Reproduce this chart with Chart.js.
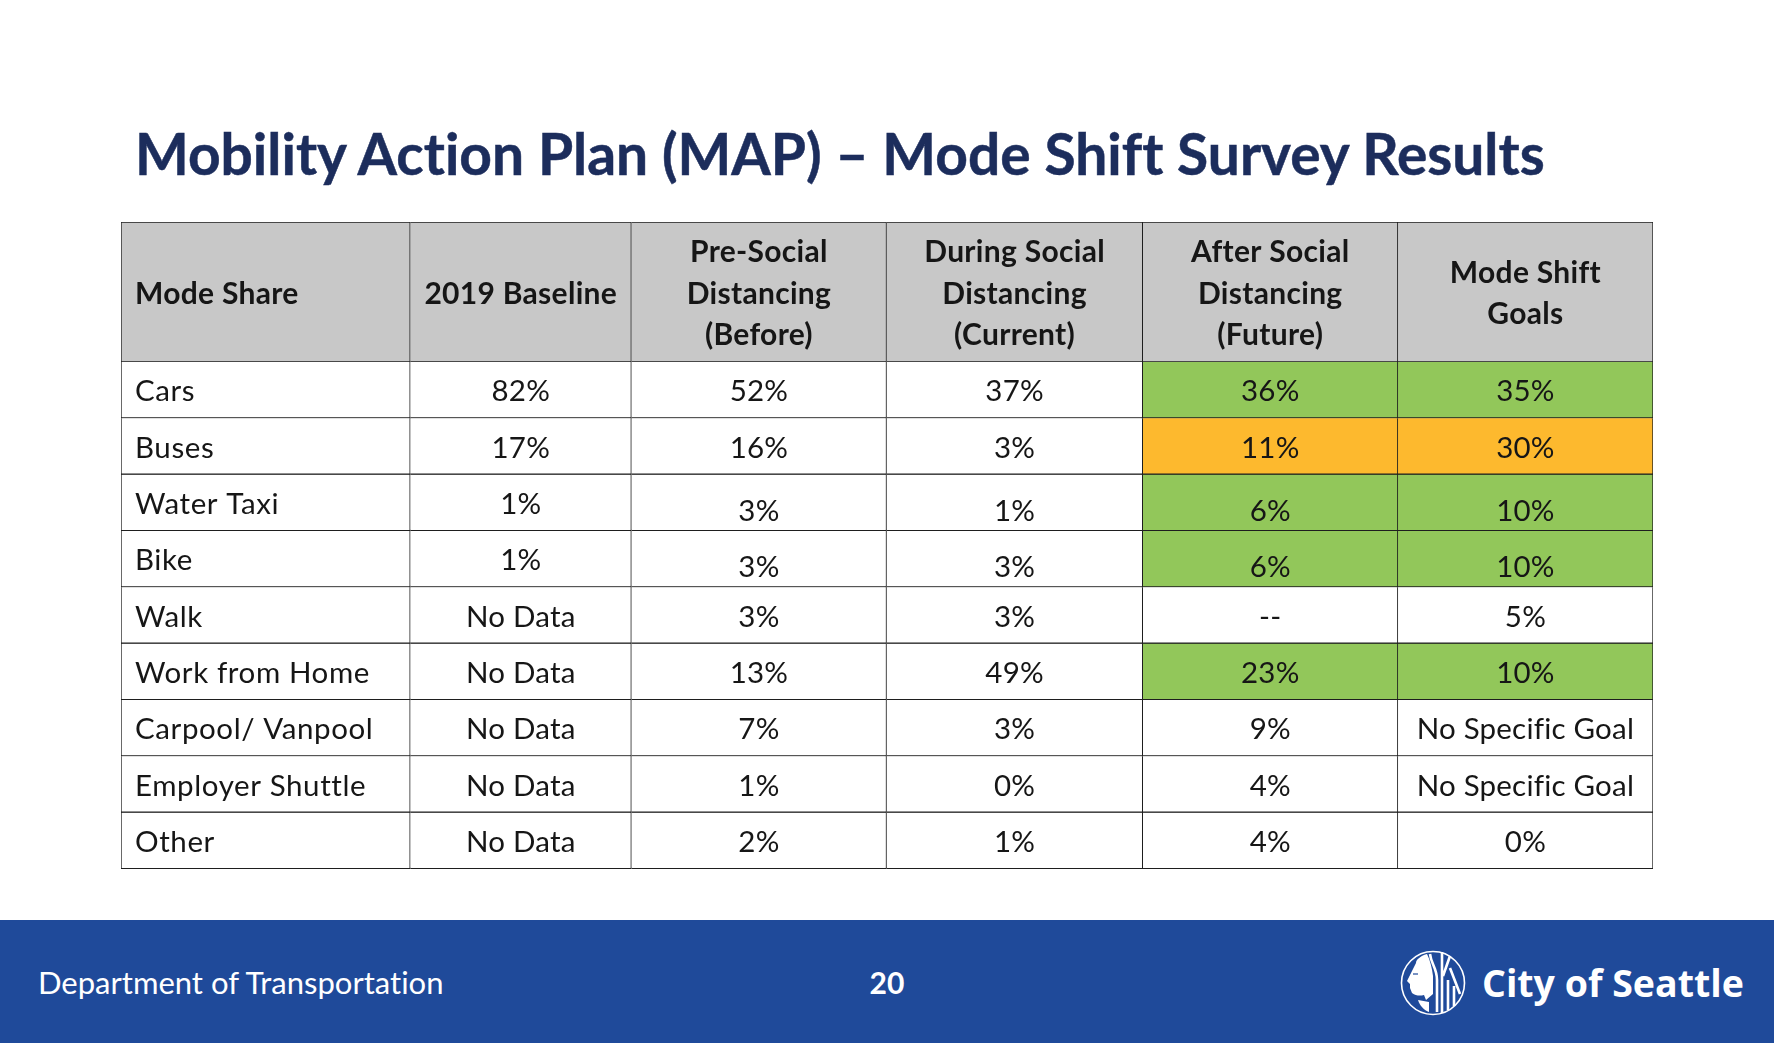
<!DOCTYPE html>
<html>
<head>
<meta charset="utf-8">
<title>Mobility Action Plan (MAP)</title>
<script src="https://cdn.jsdelivr.net/npm/chart.js@4"></script>
<style>
  html, body { margin: 0; padding: 0; background: #fff; }
  body { position: relative; width: 1774px; height: 1043px; overflow: hidden; font-family: Lato, sans-serif; font-variant-ligatures: none; }
  canvas { position: absolute; left: 121px; }
  #headerChart { top: 222px; }
  #bodyChart { top: 362px; }
  #title { position: absolute; left: 135px; top: 113px; font-size: 56.9px; line-height: 80px; font-weight: 700; color: #1c2d5c; white-space: nowrap; -webkit-text-stroke: 0.5px #1c2d5c; }
  #footer { position: absolute; left: 0; top: 920px; width: 1774px; height: 123px; background: #1f4a9a; color: #fff; }
  #dept { position: absolute; left: 38px; top: 40px; font-size: 31px; line-height: 44px; white-space: nowrap; }
  #page { position: absolute; left: 837px; width: 100px; text-align: center; top: 42px; font-size: 30px; line-height: 40px; font-weight: 700; }
  #city { position: absolute; left: 1482px; top: 35px; font-size: 37.5px; line-height: 56px; font-weight: 700; white-space: nowrap; font-family: "Open Sans", sans-serif; }
  #seal { position: absolute; left: 1400px; top: 30px; }
</style>
</head>
<body>
<div id="title">Mobility Action Plan (MAP) – Mode Shift Survey Results</div>
<canvas id="headerChart" width="1532" height="140"></canvas>
<canvas id="bodyChart" width="1532" height="507"></canvas>
<div id="footer">
  <div id="dept">Department of Transportation</div>
  <div id="page">20</div>
  <svg id="seal" width="66" height="66" viewBox="0 0 66 66">
    <circle cx="33" cy="33" r="31.5" fill="none" stroke="#fff" stroke-width="1.6"/>
    <path d="M27 4 C20 6 16 10 16 13 L12 21 L7 31 L10 34 L10 38 L12 43 C16 46 20 46 24 45 L26 50 L33 44 L33 26 C32 18 30 10 27 4 Z" fill="#fff"/>
    <path d="M18 50 C20 56 24 60 29 62 L29 52 Z" fill="#fff"/>
    <path d="M13 24 L18 24" fill="none" stroke="#1f4a9a" stroke-width="1.2"/>
    <path d="M30 4 C31 14 37 18 37 30 V62 M42 2 V63 M50 6 L43 26 M48 30 V60 M50 18 L60 44 M54 36 V56" fill="none" stroke="#fff" stroke-width="2.6"/>
  </svg>
  <div id="city">City of Seattle</div>
</div>

<script>
// table contents
const columnHeaders = [
  ['Mode Share'],
  ['2019 Baseline'],
  ['Pre-Social', 'Distancing', '(Before)'],
  ['During Social', 'Distancing', '(Current)'],
  ['After Social', 'Distancing', '(Future)'],
  ['Mode Shift', 'Goals'],
];
const modes = ['Cars', 'Buses', 'Water Taxi', 'Bike', 'Walk', 'Work from Home', 'Carpool/ Vanpool', 'Employer Shuttle', 'Other'];
const baseline2019 = ['82%', '17%', '1%', '1%', 'No Data', 'No Data', 'No Data', 'No Data', 'No Data'];
const preSocial = ['52%', '16%', '3%', '3%', '3%', '13%', '7%', '1%', '2%'];
const duringSocial = ['37%', '3%', '1%', '3%', '3%', '49%', '3%', '0%', '1%'];
const afterSocial = ['36%', '11%', '6%', '6%', '--', '23%', '9%', '4%', '4%'];
const shiftGoals = ['35%', '30%', '10%', '10%', '5%', '10%', 'No Specific Goal', 'No Specific Goal', '0%'];
const goalStatus = ['good', 'warn', 'good', 'good', '', 'good', '', '', ''];

// layout and styling
const columnWidths = [289, 221, 255, 256, 255, 255];
const GRID = '#1e1e1e';
const HEAD_FILL = '#c8c8c8';
const STATUS_FILL = { good: '#92c75a', warn: '#fdb92e', '': '#ffffff' };
const BODY_FONT = '400 29.5px Lato, sans-serif';
const HEAD_FONT = '700 30px Lato, sans-serif';
const TEXT_PAD = 14;
const HEAD_LINE = 41.5;
const LOWERED_ROWS = [2, 3]; // these rows sit a bit low from the third column on

const cellText = {
  id: 'cellText',
  afterDatasetsDraw(chart, args, opts) {
    const ctx = chart.ctx;
    ctx.save();
    ctx.textBaseline = 'middle';
    chart.data.datasets.forEach((ds, col) => {
      const meta = chart.getDatasetMeta(col);
      meta.data.forEach((bar, row) => {
        const lines = [].concat(ds.cellLabels[row]);
        const left = bar.base;
        const mid = (bar.base + bar.x) / 2;
        ctx.font = opts.font;
        ctx.letterSpacing = opts.spacing(col);
        ctx.fillStyle = '#161616';
        ctx.textAlign = col === 0 ? 'left' : 'center';
        const tx = col === 0 ? left + TEXT_PAD : mid;
        let ty = bar.y + opts.dy;
        if (opts.nudge && col >= 2 && LOWERED_ROWS.includes(row)) ty += 7;
        ty -= (lines.length - 1) * HEAD_LINE / 2;
        lines.forEach((line, i) => ctx.fillText(line, tx, ty + i * HEAD_LINE));
      });
    });
    ctx.restore();
  },
};

function tableDatasets(rowCount, labelsFor, fillFor, topRow) {
  return columnWidths.map((w, col) => ({
    data: new Array(rowCount).fill(w),
    cellLabels: labelsFor(col),
    backgroundColor: (c) => fillFor(col, c.dataIndex),
    borderColor: GRID,
    borderWidth: { top: topRow ? 1 : 0, left: col === 0 ? 1 : 0, right: 1, bottom: topRow ? 1 : 1.4 },
    borderSkipped: false,
    barPercentage: 1,
    categoryPercentage: 1,
  }));
}

function makeTable(id, rows, datasets, textOpts) {
  return new Chart(document.getElementById(id), {
    type: 'bar',
    data: { labels: rows, datasets: datasets },
    plugins: [cellText],
    options: {
      indexAxis: 'y',
      responsive: false,
      animation: false,
      layout: { padding: 0 },
      scales: {
        x: { display: false, stacked: true, min: 0, max: columnWidths.reduce((a, b) => a + b, 0) },
        y: { display: false, stacked: true },
      },
      plugins: {
        legend: { display: false },
        tooltip: { enabled: false },
        cellText: textOpts,
      },
    },
  });
}

makeTable('headerChart', ['header'],
  tableDatasets(1, (col) => [columnHeaders[col]], () => HEAD_FILL, true),
  { font: HEAD_FONT, nudge: false, dy: 2, spacing: () => '0.3px' });

const bodyColumns = [modes, baseline2019, preSocial, duringSocial, afterSocial, shiftGoals];
makeTable('bodyChart', modes,
  tableDatasets(modes.length, (col) => bodyColumns[col],
    (col, row) => (col >= 4 ? STATUS_FILL[goalStatus[row]] : '#ffffff'), false),
  { font: BODY_FONT, nudge: true, dy: 1.6, spacing: (col) => (col === 0 ? '0.6px' : '0.2px') });
</script>
</body>
</html>
